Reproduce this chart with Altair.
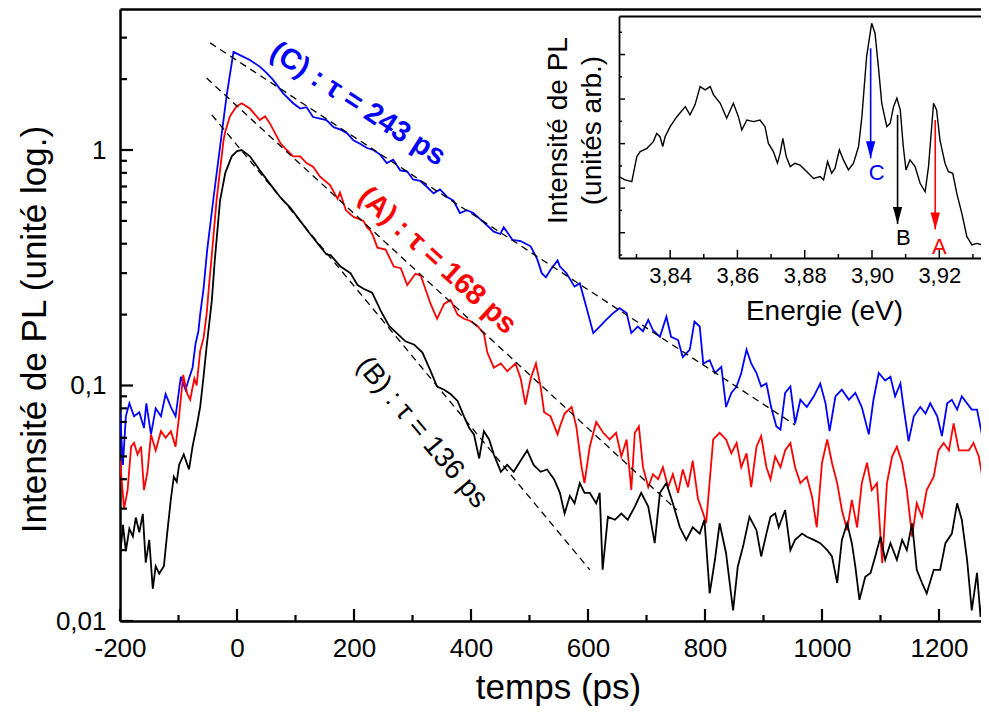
import altair as alt
import pandas as pd

# ---------------- data ----------------
# (time in ps, PL intensity)
BLUE_C = [(-200,0.077),(-195,0.046),(-190,0.074),(-184,0.084),(-176,0.074),(-167,0.077),(-159,0.066),(-155,0.084),
 (-147,0.062),(-139,0.080),(-130,0.074),(-122,0.092),(-113,0.081),(-105,0.074),(-96,0.109),(-88,0.096),(-82,0.107),
 (-76,0.119),(-71,0.15),(-66,0.17),(-63,0.20),(-57,0.26),(-51,0.376),(-40,0.63),(-29,1.03),(-18,1.68),(-6,2.61),
 (5,2.53),(22,2.41),(39,2.26),(51,2.12),(62,1.98),(79,1.74),(96,1.58),(108,1.50),(119,1.52),(130,1.38),(142,1.36),
 (153,1.34),(165,1.25),(177,1.22),(188,1.18),(199,1.10),(211,1.06),(222,1.02),(233,1.00),(244,0.96),(256,0.88),
 (267,0.91),(279,0.82),(291,0.81),(301,0.75),(313,0.74),(324,0.70),(336,0.655),(347,0.68),(360,0.63),(370,0.61),
 (381,0.54),(393,0.555),(404,0.54),(415,0.51),(427,0.48),(439,0.45),(450,0.44),(456,0.47),(464,0.44),(471,0.415),
 (485,0.41),(502,0.39),(513,0.345),(521,0.30),(528,0.288),(536,0.31),(548,0.34),(552,0.32),(563,0.30),(577,0.263),
 (586,0.272),(597,0.216),(609,0.167),(620,0.178),(631,0.19),(643,0.203),(654,0.213),(666,0.203),(674,0.167),
 (685,0.178),(694,0.17),(703,0.19),(711,0.172),(723,0.161),(734,0.196),(742,0.161),(754,0.156),(762,0.132),
 (774,0.142),(782,0.187),(791,0.178),(797,0.124),(808,0.128),(817,0.113),(828,0.120),(836,0.081),(845,0.093),
 (854,0.099),(862,0.113),(871,0.142),(879,0.124),(888,0.113),(896,0.099),(905,0.102),(913,0.081),(922,0.067),
 (929,0.065),(937,0.093),(946,0.099),(954,0.069),(963,0.087),(974,0.081),(986,0.090),(997,0.102),(1006,0.084),
 (1013,0.064),(1023,0.090),(1034,0.096),(1046,0.087),(1057,0.093),(1068,0.081),(1080,0.062),(1088,0.087),
 (1097,0.113),(1108,0.105),(1117,0.109),(1125,0.090),(1134,0.102),(1140,0.079),(1148,0.058),(1157,0.074),
 (1168,0.081),(1177,0.076),(1185,0.084),(1197,0.074),(1205,0.061),(1214,0.084),(1222,0.087),(1231,0.079),
 (1239,0.090),(1248,0.084),(1256,0.079),(1265,0.079),(1274,0.061),(1282,0.053),(1286,0.055)]

RED_A = [(-200,0.048),(-193,0.030),(-187,0.036),(-181,0.055),(-176,0.057),(-170,0.051),(-164,0.055),(-159,0.036),
 (-153,0.043),(-147,0.062),(-139,0.053),(-130,0.064),(-122,0.060),(-113,0.064),(-105,0.055),(-99,0.074),(-92,0.111),
 (-85,0.092),(-80,0.087),(-73,0.107),(-69,0.10),(-63,0.14),(-57,0.16),(-52,0.20),(-47,0.28),(-43,0.36),(-35,0.61),
 (-23,1.10),(-20,1.20),(-12,1.39),(-1,1.53),(8,1.58),(22,1.50),(39,1.34),(48,1.39),(56,1.30),(74,1.07),(85,1.0),
 (96,0.94),(108,0.94),(119,0.88),(130,0.85),(142,0.77),(159,0.71),(172,0.62),(176,0.66),(186,0.556),(199,0.52),
 (208,0.51),(216,0.50),(222,0.47),(228,0.455),(233,0.43),(240,0.385),(254,0.378),(268,0.32),(280,0.315),
 (291,0.267),(305,0.298),(314,0.293),(331,0.222),(342,0.192),(354,0.222),(365,0.231),(377,0.20),(388,0.192),
 (399,0.188),(411,0.179),(422,0.166),(428,0.138),(439,0.119),(451,0.124),(462,0.115),(476,0.124),(485,0.107),
 (493,0.083),(502,0.107),(511,0.124),(519,0.099),(525,0.077),(536,0.074),(548,0.062),(552,0.067),(560,0.076),
 (572,0.081),(580,0.067),(589,0.045),(594,0.0385),(603,0.055),(614,0.070),(626,0.063),(637,0.059),(648,0.063),
 (657,0.050),(666,0.059),(674,0.036),(680,0.063),(687,0.067),(694,0.045),(703,0.037),(711,0.042),(720,0.040),
 (728,0.045),(737,0.037),(745,0.042),(754,0.035),(762,0.044),(771,0.037),(779,0.048),(788,0.033),(797,0.0286),
 (802,0.026),(814,0.059),(825,0.063),(836,0.059),(845,0.0515),(854,0.057),(862,0.045),(871,0.0515),(879,0.037),
 (888,0.055),(896,0.061),(905,0.045),(912,0.040),(920,0.050),(929,0.045),(937,0.053),(946,0.057),(954,0.045),
 (963,0.0385),(974,0.041),(983,0.0337),(991,0.025),(1000,0.047),(1009,0.059),(1017,0.047),(1026,0.0385),
 (1034,0.0296),(1043,0.0243),(1051,0.0327),(1060,0.025),(1068,0.0385),(1077,0.047),(1085,0.036),(1094,0.0385),
 (1103,0.0176),(1111,0.0385),(1120,0.050),(1128,0.055),(1137,0.047),(1145,0.036),(1154,0.0228),(1162,0.0316),
 (1171,0.0277),(1179,0.036),(1191,0.041),(1199,0.053),(1208,0.057),(1217,0.053),(1225,0.069),(1234,0.053),
 (1242,0.053),(1251,0.053),(1259,0.057),(1268,0.050),(1276,0.0385),(1286,0.0277)]

BLACK_B = [(-200,0.0184),(-195,0.0256),(-190,0.0198),(-184,0.0247),(-178,0.0229),(-173,0.0275),(-167,0.0238),
 (-161,0.0285),(-156,0.0177),(-150,0.0221),(-144,0.0137),(-139,0.0171),(-133,0.0159),(-125,0.0171),(-119,0.024),
 (-113,0.033),(-108,0.041),(-103,0.039),(-99,0.046),(-91,0.051),(-82,0.044),(-76,0.055),(-69,0.067),(-63,0.081),
 (-57,0.11),(-52,0.146),(-43,0.23),(-38,0.34),(-29,0.61),(-20,0.80),(-9,0.94),(0,0.99),(8,1.0),(22,0.94),(39,0.82),
 (56,0.72),(74,0.63),(91,0.57),(108,0.50),(125,0.44),(142,0.39),(153,0.36),(160,0.358),(177,0.32),(194,0.30),
 (206,0.267),(217,0.257),(231,0.248),(246,0.207),(260,0.179),(274,0.166),(288,0.154),(303,0.149),(317,0.138),
 (331,0.115),(342,0.099),(354,0.096),(365,0.092),(377,0.086),(388,0.074),(397,0.066),(405,0.062),(414,0.049),
 (422,0.064),(431,0.059),(439,0.051),(451,0.043),(462,0.046),(473,0.043),(485,0.048),(496,0.053),(507,0.046),
 (519,0.043),(530,0.044),(542,0.040),(552,0.035),(560,0.0286),(569,0.034),(577,0.0316),(586,0.0385),(594,0.035),
 (603,0.035),(614,0.0316),(620,0.035),(625,0.0165),(634,0.0277),(646,0.0269),(657,0.0286),(668,0.0269),
 (680,0.0306),(691,0.035),(703,0.0306),(714,0.0214),(723,0.035),(734,0.0385),(745,0.0316),(757,0.025),
 (768,0.0221),(779,0.025),(791,0.0235),(799,0.0269),(808,0.0131),(817,0.0182),(825,0.026),(836,0.0194),
 (848,0.0111),(856,0.017),(865,0.0207),(876,0.0277),(888,0.0243),(896,0.0188),(905,0.0235),(912,0.0277),
 (920,0.0286),(926,0.025),(937,0.0296),(946,0.020),(954,0.0221),(966,0.0235),(974,0.0228),(986,0.0221),
 (997,0.0214),(1009,0.020),(1017,0.0188),(1026,0.0145),(1034,0.0221),(1043,0.026),(1051,0.0214),(1057,0.017),
 (1064,0.0123),(1074,0.0154),(1083,0.016),(1091,0.0188),(1100,0.0228),(1108,0.0182),(1117,0.0214),(1128,0.0182),
 (1137,0.0221),(1145,0.020),(1154,0.026),(1162,0.0165),(1171,0.0145),(1179,0.0131),(1191,0.0165),(1202,0.0165),
 (1211,0.0214),(1222,0.0235),(1231,0.0316),(1239,0.0269),(1248,0.0182),(1256,0.0111),(1265,0.016),(1271,0.0104),
 (1279,0.016),(1286,0.0104)]

# exponential fits: end points (time, intensity)
FIT_SERIES = ["C", "A", "B"]
FIT_T0 = [-46, -52, -43]
FIT_I0 = [2.85, 2.02, 1.41]
FIT_T1 = [954, 752, 603]
FIT_I1 = [0.068, 0.0296, 0.0165]

LABEL_SERIES = ["C", "A", "B"]
LABEL_TEXT = ["(C) : τ = 243 ps", "(A) : τ = 168 ps", "(B) : τ = 136 ps"]
LABEL_T = [207, 343, 316]
LABEL_I = [1.57, 0.34, 0.063]

# inset spectrum (energy eV, intensity arb.)
SPECTRUM = [(3.8248,3.52),(3.8266,3.37),(3.8286,3.29),(3.8301,4.42),(3.8311,4.64),(3.8331,4.79),(3.8350,5.09),
 (3.8360,5.46),(3.8370,5.31),(3.8378,4.87),(3.8385,5.31),(3.8400,5.76),(3.8420,6.21),(3.8445,6.66),(3.8459,6.29),
 (3.8474,6.74),(3.8489,7.56),(3.8504,7.41),(3.8519,7.56),(3.8529,7.19),(3.8549,6.81),(3.8568,6.14),(3.8588,6.81),
 (3.8603,6.21),(3.8613,5.61),(3.8628,6.06),(3.8648,5.99),(3.8667,6.06),(3.8682,5.76),(3.8692,5.01),(3.8707,4.64),
 (3.8719,4.12),(3.8727,4.57),(3.8735,5.24),(3.8745,4.42),(3.8757,3.97),(3.8771,4.12),(3.8786,4.04),(3.8801,3.82),
 (3.8811,3.67),(3.8826,3.44),(3.8846,3.52),(3.8856,3.37),(3.8868,4.19),(3.8880,3.67),(3.8890,3.89),(3.8903,4.72),
 (3.8915,4.27),(3.8930,3.82),(3.8945,4.12),(3.8960,4.87),(3.8970,6.21),(3.8984,8.91),(3.8999,10.40),(3.9009,9.96),
 (3.9019,8.46),(3.9029,6.81),(3.9044,5.76),(3.9054,5.91),(3.9064,6.66),(3.9074,7.04),(3.9084,6.51),(3.9093,4.87),
 (3.9101,3.82),(3.9113,4.27),(3.9128,3.97),(3.9143,3.22),(3.9158,2.84),(3.9168,3.97),(3.9183,6.81),(3.9192,6.51),
 (3.9202,5.16),(3.9217,4.12),(3.9227,3.74),(3.9240,3.67),(3.9252,2.77),(3.9267,1.87),(3.9282,0.82),(3.9297,0.45),
 (3.9311,0.52),(3.9331,0.45),(3.9347,0.52)]

ARROW_SERIES = ["C", "B", "A"]
ARROW_E = [3.8996, 3.9076, 3.9188]
ARROW_TOP = [9.28, 6.29, 6.06]
ARROW_TIP = [4.34, 1.39, 1.15]
ARROW_LABEL_E = [3.9014, 3.9093, 3.9200]
ARROW_LABEL_V = [3.70, 0.75, 0.37]

X_MAJOR = [-200, 0, 200, 400, 600, 800, 1000, 1200]
X_MINOR = [-100, 100, 300, 500, 700, 900, 1100]
Y_MAJOR = [0.01, 0.1, 1]
Y_MINOR = [0.02, 0.03, 0.04, 0.05, 0.06, 0.07, 0.08, 0.09,
           0.2, 0.3, 0.4, 0.5, 0.6, 0.7, 0.8, 0.9, 2, 3]
IX_MAJOR = [3.84, 3.86, 3.88, 3.90, 3.92]
IX_MINOR = [3.83, 3.85, 3.87, 3.89, 3.91, 3.93]
IY_MAJOR = [1, 3, 5, 7, 9]
IY_MINOR = [0, 2, 4, 6, 8, 10]

# ---------------- tables ----------------
rows = []
for s, pts in (("C", BLUE_C), ("A", RED_A), ("B", BLACK_B)):
    for t, i in pts:
        rows.append({"s": s, "t": t, "I": i})
curves_df = pd.DataFrame(rows)

fit_rows = []
for s, t0, i0, t1, i1 in zip(FIT_SERIES, FIT_T0, FIT_I0, FIT_T1, FIT_I1):
    fit_rows += [{"s": s, "t": t0, "I": i0}, {"s": s, "t": t1, "I": i1}]
fits_df = pd.DataFrame(fit_rows)

labels_df = pd.DataFrame({"s": LABEL_SERIES, "lab": LABEL_TEXT, "t": LABEL_T, "I": LABEL_I})
spec_df = pd.DataFrame(SPECTRUM, columns=["E", "v"])
arrows_df = pd.DataFrame({"s": ARROW_SERIES, "E": ARROW_E, "top": ARROW_TOP, "tip": ARROW_TIP})
alabels_df = pd.DataFrame({"s": ARROW_SERIES, "lab": ARROW_SERIES, "E": ARROW_LABEL_E, "v": ARROW_LABEL_V})

# ---------------- layout ----------------
W, H = 861, 612
XDOM = [-200, 1271.8]
YDOM = [0.01, 3.97]
IXDOM = [3.8248, 3.9324]
IYDOM = [-0.135, 10.73]
IX_RANGE = [499, 861]
IY_RANGE = [249, 7]
FONT = "Liberation Sans"

CSCALE = alt.Scale(domain=["A", "B", "C"], range=["#ff0000", "#000000", "#0000ff"])


def ax(orient, **kw):
    base = dict(orient=orient, grid=False, labels=False, ticks=False, domain=False, title=None)
    base.update(kw)
    return alt.Axis(**base)


def mx(axis=None):
    return alt.X("t:Q", scale=alt.Scale(domain=XDOM, range=[0, W], nice=False, zero=False), axis=axis)


def my(axis=None):
    return alt.Y("I:Q", scale=alt.Scale(type="log", domain=YDOM, range=[H, 0], nice=False), axis=axis)


def ix(axis=None):
    return alt.X("E:Q", scale=alt.Scale(domain=IXDOM, range=IX_RANGE, nice=False, zero=False), axis=axis)


def iy(field, axis=None):
    return alt.Y(field + ":Q", scale=alt.Scale(domain=IYDOM, range=IY_RANGE, nice=False, zero=False), axis=axis)


color = alt.Color("s:N", scale=CSCALE, legend=None)


# ---------- inward tick marks (positioned by the chart scales) ----------
def xticks(values, field, length, enc, bottom, width):
    return alt.Chart(pd.DataFrame({field: values})).mark_rule(
        strokeWidth=width, color="black").encode(
        x=enc, y=alt.value(bottom - length), y2=alt.value(bottom))


def yticks(values, field, length, enc, left, width):
    return alt.Chart(pd.DataFrame({field: values})).mark_rule(
        strokeWidth=width, color="black").encode(
        y=enc, x=alt.value(left), x2=alt.value(left + length))


tick_layers = [
    xticks(X_MAJOR, "t", 12, mx(), H, 2.2),
    xticks(X_MINOR, "t", 6, mx(), H, 2.2),
    yticks(Y_MAJOR, "I", 13, my(), 0, 2.2),
    yticks(Y_MINOR, "I", 7, my(), 0, 2.2),
    xticks(IX_MAJOR, "E", 8, ix(), IY_RANGE[0], 1.5),
    xticks(IX_MINOR, "E", 4, ix(), IY_RANGE[0], 1.5),
    yticks(IY_MAJOR, "v", 6, iy("v"), IX_RANGE[0], 1.5),
    yticks(IY_MINOR, "v", 3, iy("v"), IX_RANGE[0], 1.5),
]

# ---------- main panel ----------
curves = alt.Chart(curves_df).mark_line(strokeWidth=1.8, clip=True).encode(
    x=mx(ax("bottom", domain=True, domainWidth=2.5, domainColor="black", labels=True, values=X_MAJOR,
            labelExpr="datum.value < 0 ? '-' + (-datum.value) : '' + datum.value",
            labelFontSize=26, labelPadding=14, labelFlush=False, labelColor="black",
            title="temps (ps)", titleFontSize=35, titleFontWeight="normal", titleColor="black",
            titleX=438, titleY=77, titleBaseline="alphabetic", titleAlign="center")),
    y=my(ax("left", domain=True, domainWidth=2.5, domainColor="black", labels=True, values=Y_MAJOR,
            labelExpr="replace(format(datum.value, '~g'), '.', ',')",
            labelFontSize=26, labelPadding=14, labelColor="black",
            title="Intensité de PL (unité log.)", titleFontSize=35, titleFontWeight="normal",
            titleColor="black", titleAngle=270, titleX=-75, titleY=320, titleBaseline="alphabetic",
            titleAlign="center")),
    color=color,
    detail="s:N",
)

fits = alt.Chart(fits_df).mark_line(strokeWidth=1.3, strokeDash=[7, 5], color="black", clip=True).encode(
    x=mx(ax("top", domain=True, domainWidth=2.5, domainColor="black")),
    y=my(),
    detail="s:N",
)

lab_c = alt.Chart(labels_df[labels_df.s == "C"]).mark_text(
    angle=33, fontSize=29, fontWeight="bold", align="center", baseline="middle").encode(
    x=mx(), y=my(), text="lab:N", color=color)
lab_a = alt.Chart(labels_df[labels_df.s == "A"]).mark_text(
    angle=42.5, fontSize=29, fontWeight="bold", align="center", baseline="middle").encode(
    x=mx(), y=my(), text="lab:N", color=color)
lab_b = alt.Chart(labels_df[labels_df.s == "B"]).mark_text(
    angle=50, fontSize=28, fontWeight="normal", align="center", baseline="middle").encode(
    x=mx(), y=my(), text="lab:N", color=color)

# ---------- inset ----------
spectrum = alt.Chart(spec_df).mark_line(strokeWidth=1.4, color="black").encode(
    x=ix(ax("bottom", offset=-363, domain=True, domainWidth=1.8, domainColor="black", labels=True,
            values=IX_MAJOR, labelExpr="replace(format(datum.value, '.2f'), '.', ',')",
            labelFontSize=22, labelPadding=7, labelFlush=False, labelColor="black",
            title="Energie (eV)", titleFontSize=28, titleFontWeight="normal", titleColor="black",
            titleX=704, titleY=61, titleBaseline="alphabetic", titleAlign="center")),
    y=iy("v", ax("left", offset=-499, domain=True, domainWidth=1.8, domainColor="black",
                 title=["Intensité de PL", "(unités arb.)"], titleFontSize=28, titleFontWeight="normal",
                 titleColor="black", titleAngle=270, titleX=-53, titleY=121, titleBaseline="alphabetic",
                 titleAlign="center", titleLineHeight=34)),
)

arrows = alt.Chart(arrows_df).mark_rule(strokeWidth=1.6).encode(
    x=ix(), y=iy("top"), y2=alt.Y2("tip:Q"), color=color)

heads = alt.Chart(arrows_df).mark_point(
    shape="M-0.55,-1L0.55,-1L0,1Z", filled=True, size=289, yOffset=-8.5, opacity=1).encode(
    x=ix(), y=iy("tip"), color=color)

alabels = alt.Chart(alabels_df).mark_text(fontSize=22, align="center", baseline="middle").encode(
    x=ix(ax("top", offset=-7, domain=True, domainWidth=1.8, domainColor="black")),
    y=iy("v"),
    text="lab:N", color=color,
)

chart = alt.layer(
    curves, fits, lab_c, lab_a, lab_b, spectrum, arrows, heads, alabels, *tick_layers
).resolve_scale(
    x="independent", y="independent"
).properties(
    width=W, height=H,
    autosize=alt.AutoSizeParams(type="none"),
    padding={"left": 112, "top": 1, "right": 0, "bottom": 85},
    background="white",
).configure_view(
    stroke=None
).configure_axis(
    labelFont=FONT, titleFont=FONT
).configure_text(
    font=FONT
)

chart.save("out.html", embed_options={"renderer": "svg", "actions": False})
